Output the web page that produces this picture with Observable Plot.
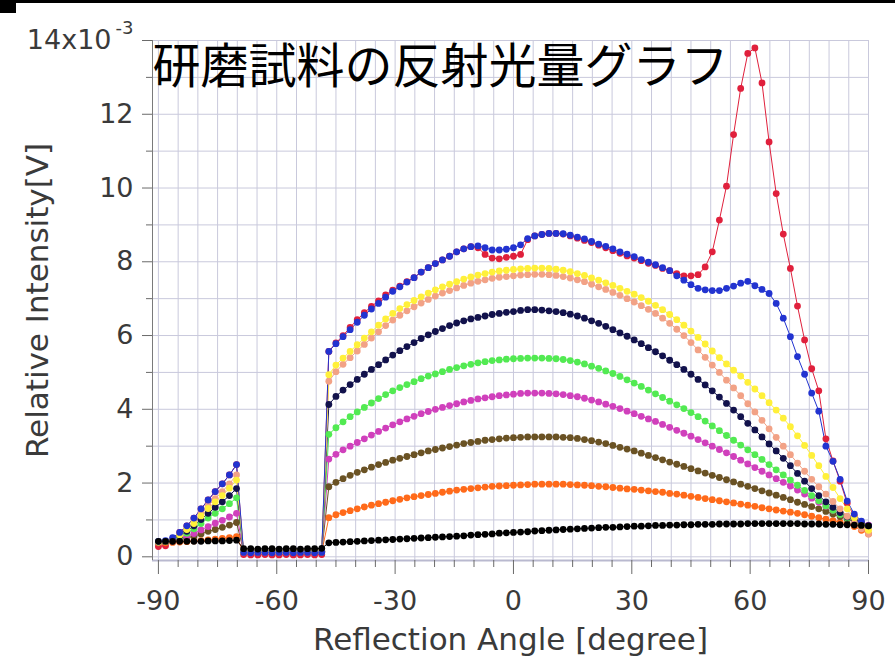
<!DOCTYPE html>
<html><head><meta charset="utf-8">
<script src="https://cdn.jsdelivr.net/npm/d3@7"></script>
<script src="https://cdn.jsdelivr.net/npm/@observablehq/plot@0.6"></script>
<style>
html,body{margin:0;padding:0;background:#fff;}
#wrap{position:relative;width:895px;height:662px;overflow:hidden;background:#fff;}
#wrap svg{display:block;}
.bar1{position:absolute;left:0;top:0;width:895px;height:3px;background:#000;}
.bar2{position:absolute;left:0;top:0;width:16px;height:13px;background:#000;}
</style></head><body>
<div id="wrap"><div class="bar1"></div><div class="bar2"></div></div>
<script>
const titleText = "研磨試料の反射光量グラフ";
const xLabel = "Reflection Angle [degree]";
const yLabel = "Relative Intensity[V]";
const yTopTick = [14];
const yTopMantissa = "14x10";
const yTopExponent = "-3";

const angles = [-90,-88.2,-86.4,-84.6,-82.8,-81,-79.2,-77.4,-75.6,-73.8,-72,-70.2,
-68.4,-66.6,-64.8,-63,-61.2,-59.4,-57.6,-55.8,-54,-52.2,-50.4,-48.6,
-46.8,-45,-43.2,-41.4,-39.6,-37.8,-36,-34.2,-32.4,-30.6,
-28.8,-27,-25.2,-23.4,-21.6,-19.8,-18,-16.2,-14.4,-12.6,
-10.8,-9,-7.2,-5.4,-3.6,-1.8,0,1.8,3.6,5.4,
7.2,9,10.8,12.6,14.4,16.2,18,19.8,21.6,23.4,
25.2,27,28.8,30.6,32.4,34.2,36,37.8,39.6,41.4,
43.2,45,46.8,48.6,50.4,52.2,54,55.8,57.6,59.4,
61.2,63,64.8,66.6,68.4,70.2,72,73.8,75.6,77.4,
79.2,81,82.8,84.6,86.4,88.2,90];

const red = [0.28,0.3,0.48,0.66,0.84,1.05,1.3,1.54,1.77,1.98,2.22,2.5,
0.06,0.05,0.05,0.06,0.05,0.05,0.06,0.05,0.05,0.06,0.05,0.06,
5.57,5.8,6.0,6.22,6.43,6.62,6.79,6.94,7.1,7.23,
7.34,7.46,7.57,7.72,7.84,7.95,8.05,8.15,8.27,8.35,
8.41,8.38,8.2,8.1,8.08,8.12,8.15,8.2,8.6,8.7,
8.74,8.77,8.77,8.75,8.7,8.64,8.58,8.52,8.45,8.38,
8.3,8.23,8.16,8.1,8.03,7.96,7.9,7.82,7.76,7.68,
7.62,7.62,7.65,7.86,8.27,9.13,10.05,11.45,12.7,13.65,
13.8,12.85,11.25,9.85,8.75,7.82,6.8,5.88,5.1,4.5,
3.2,2.6,2.05,1.45,1.1,0.92,0.8];

const blue = [0.42,0.44,0.52,0.66,0.84,1.05,1.3,1.54,1.77,1.98,2.22,2.5,
0.12,0.11,0.12,0.12,0.11,0.12,0.12,0.11,0.12,0.12,0.11,0.12,
5.57,5.78,5.97,6.16,6.36,6.55,6.72,6.87,7.04,7.2,
7.32,7.45,7.57,7.72,7.84,7.95,8.05,8.15,8.27,8.35,
8.41,8.43,8.38,8.32,8.32,8.34,8.38,8.46,8.63,8.7,
8.74,8.77,8.77,8.76,8.72,8.67,8.62,8.55,8.48,8.42,
8.35,8.27,8.21,8.14,8.06,7.99,7.92,7.84,7.76,7.62,
7.5,7.38,7.28,7.24,7.22,7.22,7.28,7.34,7.42,7.47,
7.35,7.25,7.14,6.87,6.47,5.97,5.43,4.95,4.44,3.95,
3.0,2.59,2.1,1.51,1.16,0.97,0.84];

const yellow = [0.4,0.42,0.47,0.59,0.74,0.9,1.11,1.31,1.49,1.66,1.86,2.08,
0.14,0.14,0.15,0.14,0.14,0.15,0.14,0.14,0.15,0.14,0.14,0.15,
4.94,5.2,5.39,5.57,5.75,5.93,6.1,6.28,6.45,6.6,
6.73,6.84,6.95,7.05,7.15,7.24,7.32,7.39,7.46,7.53,
7.59,7.64,7.68,7.72,7.75,7.77,7.79,7.81,7.82,7.83,
7.83,7.82,7.8,7.77,7.73,7.68,7.63,7.56,7.5,7.43,
7.36,7.28,7.2,7.12,7.03,6.93,6.82,6.7,6.57,6.43,
6.28,6.12,5.95,5.77,5.58,5.4,5.23,5.06,4.9,4.73,
4.55,4.37,4.18,3.98,3.76,3.53,3.28,3.02,2.75,2.47,
2.18,1.88,1.58,1.3,1.06,0.86,0.72];

const salmon = [0.4,0.42,0.47,0.61,0.76,0.95,1.16,1.38,1.58,1.77,1.98,2.22,
0.14,0.15,0.14,0.14,0.15,0.14,0.14,0.15,0.14,0.14,0.15,0.14,
4.76,5.02,5.22,5.4,5.58,5.76,5.93,6.1,6.27,6.42,
6.55,6.67,6.78,6.88,6.98,7.07,7.15,7.22,7.29,7.36,
7.42,7.47,7.51,7.55,7.58,7.6,7.62,7.64,7.65,7.66,
7.66,7.65,7.63,7.6,7.56,7.51,7.46,7.39,7.32,7.25,
7.17,7.09,7.0,6.91,6.81,6.71,6.6,6.47,6.33,6.17,
6.0,5.81,5.61,5.41,5.2,5.0,4.79,4.58,4.37,4.15,
3.93,3.7,3.47,3.24,3.0,2.77,2.54,2.32,2.1,1.9,
1.7,1.5,1.3,1.1,0.92,0.76,0.62];

const navy = [0.4,0.41,0.46,0.57,0.69,0.84,1.01,1.18,1.34,1.49,1.66,1.85,
0.15,0.15,0.16,0.15,0.15,0.16,0.15,0.15,0.16,0.15,0.15,0.16,
4.13,4.35,4.52,4.67,4.81,4.95,5.08,5.21,5.34,5.47,
5.59,5.7,5.81,5.92,6.02,6.11,6.19,6.27,6.34,6.4,
6.45,6.49,6.53,6.57,6.6,6.63,6.65,6.68,6.7,6.7,
6.69,6.67,6.65,6.62,6.58,6.53,6.47,6.4,6.33,6.25,
6.16,6.07,5.98,5.88,5.78,5.67,5.56,5.45,5.33,5.21,
5.08,4.95,4.81,4.66,4.5,4.33,4.16,3.98,3.8,3.62,
3.44,3.25,3.06,2.87,2.67,2.47,2.26,2.05,1.85,1.66,
1.49,1.34,1.2,1.08,0.98,0.9,0.84];

const green = [0.4,0.41,0.45,0.54,0.64,0.76,0.9,1.05,1.18,1.3,1.44,1.6,
0.14,0.14,0.13,0.14,0.14,0.13,0.14,0.14,0.13,0.14,0.14,0.13,
3.32,3.5,3.66,3.8,3.93,4.05,4.17,4.29,4.4,4.5,
4.59,4.67,4.75,4.83,4.9,4.96,5.02,5.08,5.13,5.18,
5.22,5.26,5.29,5.32,5.34,5.36,5.37,5.38,5.39,5.39,
5.39,5.38,5.37,5.35,5.32,5.28,5.23,5.17,5.11,5.04,
4.97,4.89,4.8,4.71,4.62,4.52,4.42,4.32,4.22,4.12,
4.02,3.91,3.8,3.68,3.55,3.42,3.29,3.16,3.03,2.9,
2.77,2.64,2.5,2.36,2.22,2.08,1.94,1.8,1.66,1.52,
1.38,1.26,1.15,1.05,0.96,0.88,0.82];

const magenta = [0.4,0.41,0.43,0.49,0.56,0.63,0.73,0.82,0.91,0.99,1.08,1.18,
0.13,0.13,0.14,0.13,0.13,0.14,0.13,0.13,0.14,0.13,0.13,0.14,
2.65,2.78,2.9,3.0,3.1,3.2,3.3,3.4,3.49,3.58,
3.66,3.74,3.81,3.88,3.94,4.0,4.05,4.1,4.15,4.2,
4.24,4.28,4.31,4.34,4.37,4.39,4.41,4.43,4.44,4.44,
4.44,4.43,4.42,4.4,4.37,4.34,4.3,4.25,4.2,4.14,
4.08,4.02,3.95,3.88,3.81,3.74,3.67,3.59,3.51,3.43,
3.35,3.27,3.18,3.09,3.0,2.91,2.82,2.72,2.62,2.52,
2.42,2.32,2.22,2.12,2.02,1.92,1.81,1.7,1.59,1.48,
1.37,1.26,1.16,1.07,0.99,0.92,0.86];

const brown = [0.4,0.41,0.42,0.46,0.51,0.56,0.62,0.69,0.74,0.8,0.86,0.93,
0.15,0.16,0.15,0.15,0.16,0.15,0.15,0.16,0.15,0.15,0.16,0.15,
1.9,2.02,2.12,2.21,2.29,2.36,2.43,2.5,2.56,2.62,
2.67,2.72,2.77,2.82,2.87,2.91,2.95,2.99,3.03,3.07,
3.1,3.13,3.16,3.18,3.2,3.22,3.23,3.24,3.25,3.25,
3.25,3.25,3.25,3.24,3.23,3.21,3.18,3.15,3.11,3.07,
3.02,2.97,2.92,2.87,2.81,2.75,2.69,2.63,2.57,2.51,
2.45,2.39,2.33,2.27,2.21,2.15,2.09,2.03,1.97,1.91,
1.85,1.79,1.73,1.67,1.61,1.55,1.48,1.42,1.36,1.3,
1.23,1.16,1.09,1.02,0.96,0.9,0.84];

const orange = [0.38,0.38,0.39,0.4,0.41,0.43,0.44,0.46,0.48,0.5,0.52,0.55,
0.12,0.12,0.13,0.12,0.12,0.13,0.12,0.12,0.13,0.12,0.12,0.13,
1.06,1.14,1.2,1.25,1.3,1.35,1.4,1.44,1.48,1.52,
1.56,1.6,1.63,1.66,1.69,1.72,1.75,1.78,1.81,1.83,
1.85,1.87,1.89,1.91,1.92,1.93,1.94,1.95,1.96,1.97,
1.97,1.97,1.97,1.97,1.96,1.95,1.94,1.93,1.91,1.9,
1.88,1.86,1.84,1.83,1.81,1.79,1.77,1.75,1.72,1.7,
1.67,1.64,1.61,1.58,1.55,1.52,1.49,1.46,1.43,1.4,
1.37,1.33,1.3,1.27,1.24,1.21,1.18,1.14,1.1,1.06,
1.02,0.98,0.94,0.89,0.82,0.72,0.62];

const black = [0.42,0.42,0.42,0.42,0.42,0.42,0.42,0.43,0.43,0.43,0.44,0.45,
0.22,0.22,0.21,0.22,0.22,0.21,0.22,0.22,0.21,0.22,0.22,0.23,
0.38,0.39,0.4,0.41,0.42,0.43,0.44,0.45,0.46,0.47,
0.48,0.49,0.5,0.51,0.52,0.53,0.54,0.55,0.56,0.57,
0.59,0.6,0.61,0.62,0.64,0.65,0.66,0.67,0.68,0.7,
0.71,0.72,0.73,0.74,0.75,0.76,0.77,0.78,0.79,0.8,
0.8,0.81,0.82,0.83,0.83,0.84,0.85,0.85,0.86,0.86,
0.87,0.87,0.88,0.88,0.88,0.89,0.89,0.89,0.89,0.9,
0.9,0.9,0.9,0.9,0.9,0.9,0.9,0.89,0.89,0.89,
0.88,0.88,0.87,0.87,0.86,0.85,0.84];

// drawing order: bottom to top (names are not CSS colours, so the colour scale applies)
const seriesNames = ["sample-1","sample-2","sample-3","sample-4","sample-5","sample-6","sample-7","sample-8","sample-9","sample-10"];
const seriesValues = [red, orange, brown, magenta, green, navy, salmon, yellow, blue, black];
const seriesColors = ["#e0203c","#ff6a1a","#6a5224","#d040bc","#52ea52","#12124c","#f2a286","#fff03a","#2233d0","#000000"];

const xGrid = [-90,-85,-80,-75,-70,-65,-60,-55,-50,-45,-40,-35,-30,-25,-20,-15,-10,-5,0,5,10,15,20,25,30,35,40,45,50,55,60,65,70,75,80,85,90];
const xMajor = [-90,-60,-30,0,30,60,90];
const xMinor = [-85,-80,-75,-70,-65,-55,-50,-45,-40,-35,-25,-20,-15,-10,-5,5,10,15,20,25,35,40,45,50,55,65,70,75,80,85];
const yGrid = [0,1,2,3,4,5,6,7,8,9,10,11,12,13,14];
const yMajor = [0,2,4,6,8,10,12];
const yMinor = [1,3,5,7,9,11,13];

const rows = seriesNames.flatMap((name, i) =>
  seriesValues[i].map((v, j) => ({angle: angles[j], value: v, series: name})));

const font = "'DejaVu Sans', 'Open Sans', sans-serif";
const gridColor = "#c9c9dc";
const tickColor = "#6a6a6a";
const textColor = "#3a3a3a";
const plain = d => `${d}`;

const chart = Plot.plot({
  width: 895,
  height: 662,
  marginLeft: 152,
  marginRight: 27,
  marginTop: 40,
  marginBottom: 102,
  style: {fontFamily: font, background: "transparent", color: textColor, overflow: "visible"},
  x: {domain: [-91.5, 90]},
  y: {domain: [-0.1, 14]},
  color: {domain: seriesNames, range: seriesColors},
  marks: [
    Plot.gridX(xGrid, {stroke: gridColor, strokeOpacity: 1, strokeWidth: 1}),
    Plot.gridY(yGrid, {stroke: gridColor, strokeOpacity: 1, strokeWidth: 1}),
    Plot.ruleY([-0.1], {stroke: "#b9b9cf", strokeWidth: 2}),
    Plot.ruleX([-91.5], {stroke: "#7a7a7a", strokeWidth: 1}),
    Plot.axisY({ticks: yMajor, tickSize: 10, tickPadding: 9, fontSize: 27, label: null, stroke: tickColor, fill: textColor, tickFormat: plain}),
    Plot.axisY({ticks: yTopTick, tickSize: 10, tickFormat: () => "", label: null, stroke: tickColor}),
    Plot.axisY({ticks: yMinor, tickSize: 6, tickFormat: () => "", label: null, stroke: tickColor}),
    Plot.axisX({ticks: xMajor, tickSize: 14, tickPadding: 16, fontSize: 27, label: null, stroke: tickColor, fill: textColor, tickFormat: plain}),
    Plot.axisX({ticks: xMinor, tickSize: 7, tickFormat: () => "", label: null, stroke: tickColor}),
    Plot.line(rows, {x: "angle", y: "value", z: "series", stroke: "series", strokeWidth: 1}),
    Plot.dot(rows, {x: "angle", y: "value", fill: "series", r: 3.4}),
    Plot.text(yTopTick, {x: () => -91.5, y: d => d, text: () => yTopMantissa, textAnchor: "end", dx: -41, fontSize: 27, fill: textColor}),
    Plot.text(yTopTick, {x: () => -91.5, y: d => d, text: () => yTopExponent, textAnchor: "end", dx: -19, dy: -12, fontSize: 18, fill: textColor}),
    Plot.text([titleText], {frameAnchor: "top-left", textAnchor: "start", lineAnchor: "middle", dy: 27, fontSize: 48, fontFamily: "'Noto Sans CJK JP', sans-serif", fill: "#000"}),
    Plot.text([xLabel], {frameAnchor: "bottom", textAnchor: "middle", lineAnchor: "middle", dy: 80, fontSize: 31, fill: textColor}),
    Plot.text([yLabel], {frameAnchor: "left", textAnchor: "middle", lineAnchor: "middle", rotate: -90, dx: -114, fontSize: 31, fill: textColor})
  ]
});
document.getElementById("wrap").prepend(chart);
</script>
</body></html>
